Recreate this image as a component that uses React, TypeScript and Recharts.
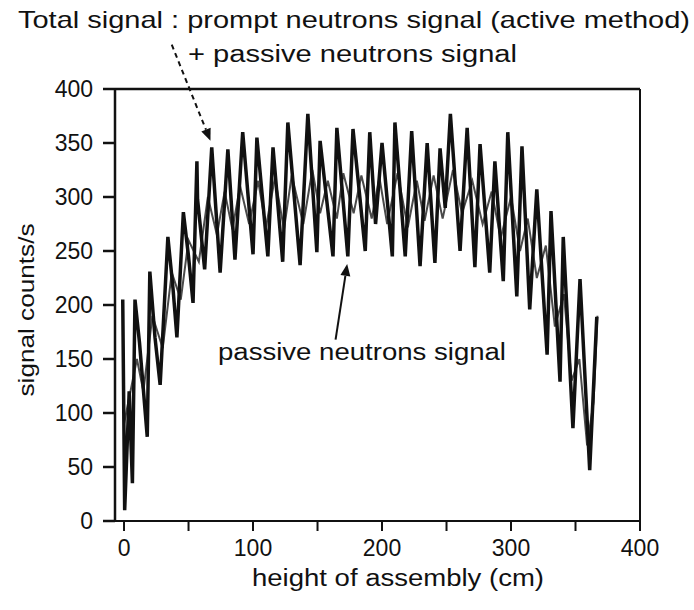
import { LineChart, Line, XAxis, YAxis, ReferenceLine } from "recharts";

// height of assembly (cm) / signal (counts/s)
const totalHeight = [
  -1, 0.5, 4, 6.5, 8.5, 12, 18, 20, 24, 28, 34, 38, 41, 46, 50, 53.5, 56.5, 57,
  62.5, 68, 74.5, 80.5, 86, 92, 100, 103, 111.5, 115.5, 123, 127, 136.5, 142.5,
  149.5, 152, 162, 165, 173.5, 177.5, 187, 190.5, 195, 200, 208, 210, 218, 223,
  229.5, 235, 241, 245, 249, 253, 260.5, 266, 272, 276, 283.5, 287.5, 294, 297.5,
  304.5, 308.5, 314.5, 320, 328, 331, 338, 340.5, 348, 353.5, 361, 366.5,
];
const totalCounts = [
  205, 10, 120, 35, 205, 165, 78, 231, 170, 126, 263, 215, 170, 286, 245, 202, 333, 298,
  233, 346, 230, 344, 242, 360, 247, 355, 245, 346, 240, 369, 237, 377,
  249, 352, 245, 364, 245, 363, 250, 360, 275, 350, 245, 369, 245, 361,
  236, 350, 239, 345, 290, 377, 250, 364, 235, 349, 230, 333, 222, 360,
  208, 347, 196, 307, 154, 287, 129, 263, 86, 224, 47, 189,
];

const passiveHeight = [
  0, 10, 15, 22, 30, 37, 44, 50, 58, 65, 72, 78, 84, 90, 97, 104, 110, 117, 124,
  130, 139, 146, 152, 158, 165, 170, 178, 184, 192, 198, 204, 212, 220, 227, 233,
  240, 247, 255, 262, 270, 278, 285, 292, 300, 307, 313, 320, 327, 334, 341, 347,
  353, 359, 364, 367,
];
const passiveCounts = [
  90, 150, 120, 190, 160, 230, 205, 260, 240, 300, 265, 305, 270, 310, 275, 315, 272, 318, 270,
  320, 275, 325, 285, 315, 280, 322, 285, 320, 280, 318, 275, 322, 272, 315, 278,
  320, 280, 325, 285, 315, 275, 305, 262, 300, 250, 280, 225, 255, 180, 210, 130,
  150, 70, 110, 190,
];

const xTicks = [0, 50, 100, 150, 200, 250, 300, 350, 400];
const xLabelled = [0, 100, 200, 300, 400];
const yTicks = [0, 50, 100, 150, 200, 250, 300, 350, 400];

const totalRows = totalHeight.map((h, i) => ({ h, v: totalCounts[i] }));
const passiveRows = passiveHeight.map((h, i) => ({ h, v: passiveCounts[i] }));

const FONT = '"Liberation Sans", Arial, Helvetica, sans-serif';
const INK = "#111";

function XTick(props: any) {
  const { x, y, payload } = props;
  if (!xLabelled.includes(payload.value)) return <g />;
  return (
    <text x={x} y={y + 19} textAnchor="middle" fontFamily={FONT} fontSize={23} fill={INK}>
      {payload.value}
    </text>
  );
}

function YTick(props: any) {
  const { x, y, payload } = props;
  return (
    <text x={x} y={y + 8} textAnchor="end" fontFamily={FONT} fontSize={23} fill={INK}>
      {payload.value}
    </text>
  );
}

// line with a small filled head at the (x2, y2) end
function Arrow(props: any) {
  const { x1, y1, x2, y2, dash } = props;
  const a = Math.atan2(y2 - y1, x2 - x1);
  const len = 12;
  const w = 5;
  const bx = x2 - len * Math.cos(a);
  const by = y2 - len * Math.sin(a);
  const px = -Math.sin(a) * w;
  const py = Math.cos(a) * w;
  return (
    <g>
      <line x1={x1} y1={y1} x2={bx} y2={by} stroke={INK} strokeWidth={2} strokeDasharray={dash} />
      <polygon points={`${x2},${y2} ${bx + px},${by + py} ${bx - px},${by - py}`} fill={INK} />
    </g>
  );
}

export default function App() {
  return (
    <div style={{ position: "absolute", left: 0, top: 0, width: 694, height: 610, background: "#fff" }}>
      <LineChart width={694} height={610} margin={{ top: 89, right: 54, left: 55, bottom: 49 }}>
        <XAxis
          type="number"
          dataKey="h"
          domain={[-7, 400]}
          ticks={xTicks}
          allowDataOverflow
          tickSize={10}
          tickMargin={6}
          height={40}
          stroke={INK}
          strokeWidth={2}
          tickLine={{ stroke: INK, strokeWidth: 2 }}
          tick={<XTick />}
        />
        <YAxis
          type="number"
          dataKey="v"
          domain={[0, 400]}
          ticks={yTicks}
          allowDataOverflow
          width={60}
          tickSize={12}
          tickMargin={10}
          stroke={INK}
          strokeWidth={2.5}
          tickLine={{ stroke: INK, strokeWidth: 2.5 }}
          tick={<YTick />}
        />
        <ReferenceLine y={400} stroke={INK} strokeWidth={2.5} />
        <ReferenceLine x={400} stroke={INK} strokeWidth={2} />
        <Line
          data={passiveRows}
          dataKey="v"
          stroke="#4a4a4a"
          strokeWidth={2}
          dot={false}
          isAnimationActive={false}
        />
        <Line
          data={totalRows}
          dataKey="v"
          stroke={INK}
          strokeWidth={3.5}
          strokeLinejoin="miter"
          dot={false}
          isAnimationActive={false}
        />
        <ReferenceLine
          segment={[{ x: 37, y: 441 }, { x: 67, y: 352 }]}
          ifOverflow="visible"
          shape={(p: any) => <Arrow {...p} dash="5 4" />}
        />
        <ReferenceLine
          segment={[{ x: 164, y: 168 }, { x: 173, y: 238 }]}
          ifOverflow="visible"
          shape={(p: any) => <Arrow {...p} />}
        />
      </LineChart>
      <svg
        width={694}
        height={610}
        style={{ position: "absolute", left: 0, top: 0, pointerEvents: "none" }}
        fontFamily={FONT}
        fill={INK}
      >
        <text x={18} y={28} fontSize={24} textLength={672} lengthAdjust="spacingAndGlyphs">
          Total signal : prompt neutrons signal (active method)
        </text>
        <text x={188} y={62} fontSize={23} textLength={329} lengthAdjust="spacingAndGlyphs">
          + passive neutrons signal
        </text>
        <text x={218} y={360} fontSize={23} textLength={288} lengthAdjust="spacingAndGlyphs">
          passive neutrons signal
        </text>
        <text
          x={0}
          y={0}
          fontSize={22}
          textAnchor="middle"
          textLength={173}
          lengthAdjust="spacingAndGlyphs"
          transform="translate(34 310) rotate(-90)"
        >
          signal counts/s
        </text>
        <text x={398} y={586} fontSize={23} textAnchor="middle" textLength={292} lengthAdjust="spacingAndGlyphs">
          height of assembly (cm)
        </text>
      </svg>
    </div>
  );
}
